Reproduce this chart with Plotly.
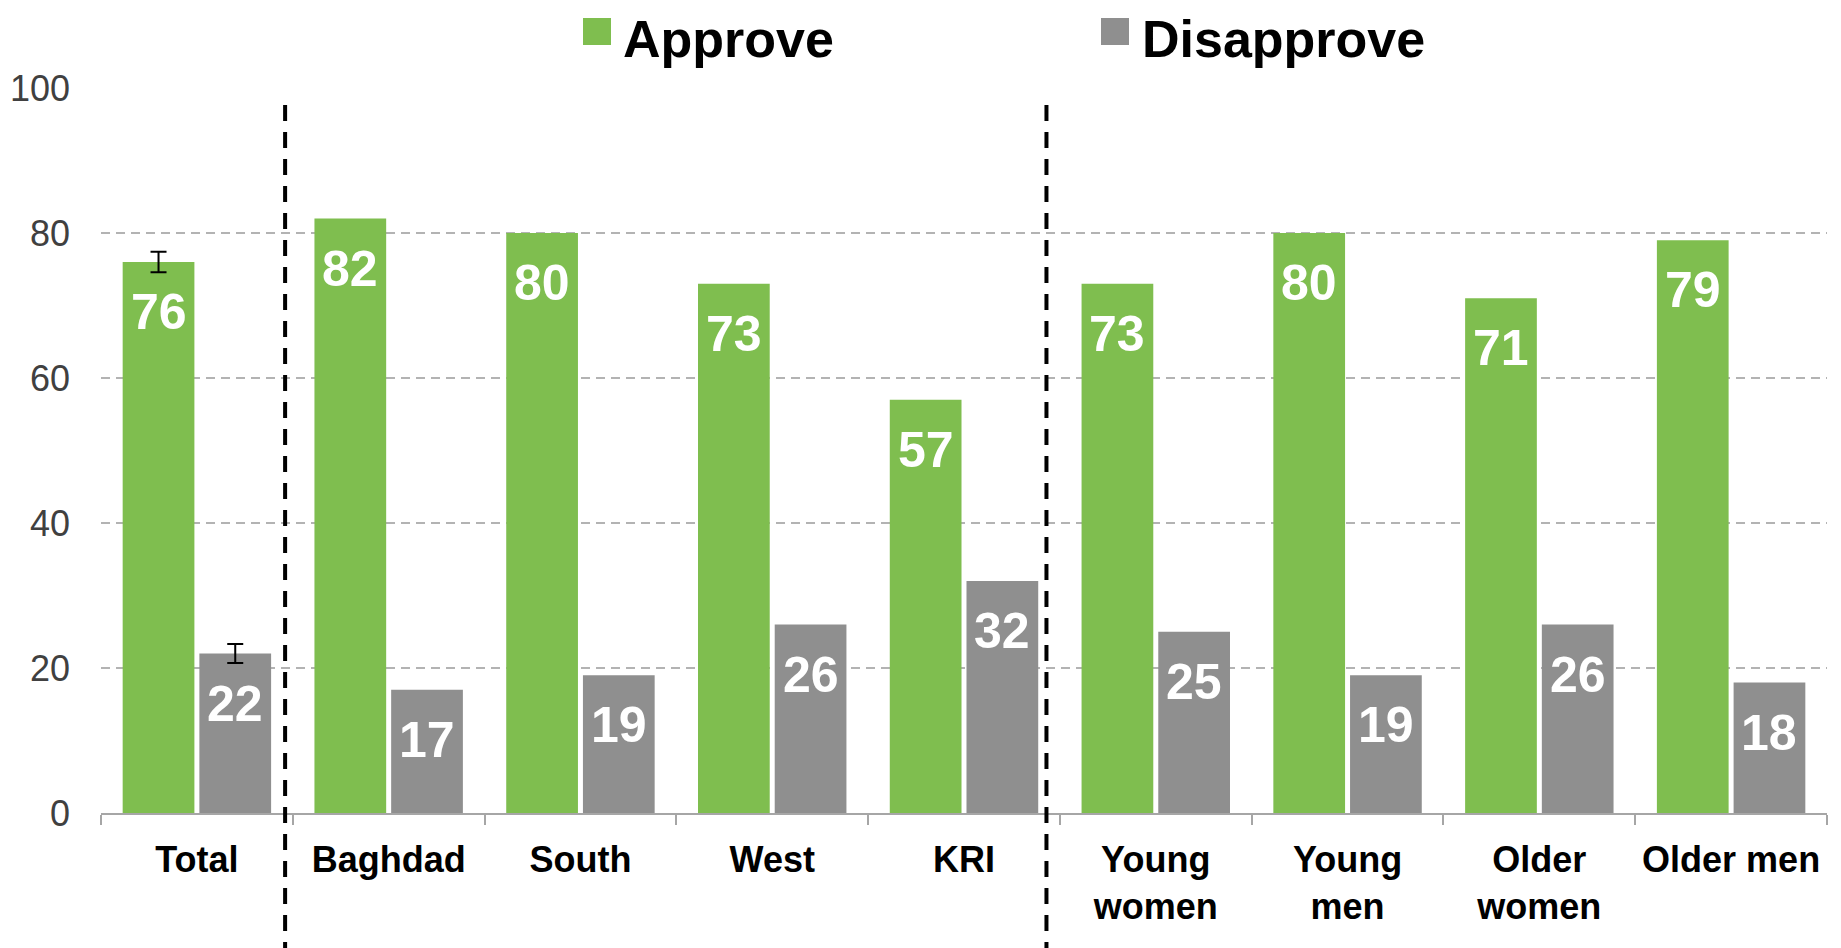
import plotly.graph_objects as go

# ---- data ----
categories = ["Total", "Baghdad", "South", "West", "KRI",
              "Young<br>women", "Young<br>men", "Older<br>women", "Older men"]
approve = [76, 82, 80, 73, 57, 73, 80, 71, 79]
disapprove = [22, 17, 19, 26, 32, 25, 19, 26, 18]
approve_err = [1.4]      # only for "Total"
disapprove_err = [1.3]   # only for "Total"
series_names = ["Approve", "Disapprove"]
y_ticks = [0, 20, 40, 60, 80, 100]
separators_after = [0.46, 4.43]   # positions of dashed dividers (category index units)

# ---- style ----
GREEN = "#7FBE4F"
GRAY = "#8F8F8F"
FONT = "Liberation Sans, Arial, sans-serif"
W, H = 1841, 948
OFF = 8  # page body margin
ML, MR, MT, MB = 101 - OFF, 22, 88 - OFF, 143
PW, PH = W - ML - MR, H - MT - MB


def px_x(px):
    # page pixel -> paper
    return (px - OFF - ML) / PW


def px_y(py):
    return (H - MB - (py - OFF)) / PH


fig = go.Figure()
for name, vals, err, col in [(series_names[0], approve, approve_err, GREEN),
                             (series_names[1], disapprove, disapprove_err, GRAY)]:
    fig.add_trace(go.Bar(
        x=categories, y=vals, name=name, marker_color=col,
        marker_line_width=0, showlegend=False,
        error_y=dict(type="data", array=err, color="black", thickness=2, width=8),
        hoverinfo="x+y",
    ))

# value labels inside the bars
annotations = []
offset = 38.3
for vals, sh in [(approve, -offset), (disapprove, offset)]:
    for c, v in zip(categories, vals):
        annotations.append(dict(
            x=c, y=v, xref="x", yref="y", xshift=sh, yshift=-20,
            yanchor="top", xanchor="center", showarrow=False, text=str(v),
            font=dict(family=FONT, size=50, color="white", weight="bold"),
        ))

# manual legend
shapes = []
legend_items = [(series_names[0], GREEN, 583, 621), (series_names[1], GRAY, 1101, 1140)]
for name, col, sq_x, tx_x in legend_items:
    shapes.append(dict(type="rect", xref="paper", yref="paper",
                       x0=px_x(sq_x), x1=px_x(sq_x + 28), y0=px_y(45), y1=px_y(18),
                       fillcolor=col, line_width=0))
    annotations.append(dict(
        x=px_x(tx_x), y=px_y(39), xref="paper", yref="paper", xanchor="left",
        yanchor="middle", showarrow=False, text=name,
        font=dict(family=FONT, size=52, color="black", weight="bold"),
    ))

# dashed separators
for sx in separators_after:
    shapes.append(dict(type="line", xref="x", yref="paper", x0=sx, x1=sx,
                       y0=-0.2, y1=px_y(94),
                       line=dict(color="black", width=4, dash="16px,11px")))

fig.update_layout(
    width=W, height=H,
    margin=dict(l=ML, r=MR, t=MT, b=MB, pad=0),
    paper_bgcolor="white", plot_bgcolor="white",
    barmode="group", bargap=0.2, bargroupgap=0.065,
    font=dict(family=FONT),
    annotations=annotations, shapes=shapes,
    showlegend=False,
)
fig.update_xaxes(
    automargin=False,
    showline=True, linecolor="#A6A6A6", linewidth=2,
    ticks="outside", tickson="boundaries", ticklen=10, tickcolor="#A6A6A6", tickwidth=2,
    showgrid=False, ticklabelstandoff=14,
    tickfont=dict(family=FONT, size=36, color="black", weight="bold"),
)
fig.update_yaxes(
    automargin=False,
    range=[0, 100], tickvals=y_ticks, showgrid=True, gridcolor="#B3B3B3",
    gridwidth=1.5, griddash="9px,6px", zeroline=False, showline=False,
    ticks="", ticklabelstandoff=30,
    tickfont=dict(family=FONT, size=36, color="#404040"),
)

fig.write_html("out.html")
